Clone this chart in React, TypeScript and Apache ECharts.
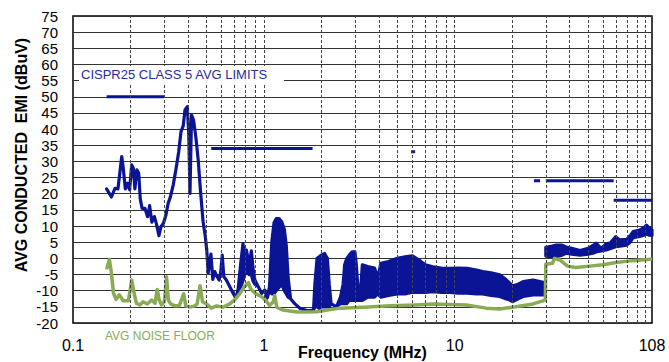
import React, { useEffect, useRef } from "react";
import * as echarts from "echarts";

// ---- data ----
// conducted EMI (average), MW/SW range: [MHz, lower envelope dBuV, upper envelope dBuV]
const emiLowBand: number[][] = [
  [0.15, 21.5, 21.5], [0.159, 19.0, 19.0], [0.166, 21.7, 21.7], [0.172, 21.5, 21.5],
  [0.18, 31.5, 31.5], [0.183, 28.4, 28.4], [0.188, 21.5, 21.5], [0.193, 23.2, 23.2],
  [0.198, 21.2, 21.2], [0.203, 28.9, 28.9], [0.207, 27.9, 27.9], [0.211, 21.5, 21.5],
  [0.216, 27.4, 27.4], [0.221, 26.3, 26.3], [0.225, 18.5, 18.5], [0.23, 15.5, 15.5],
  [0.238, 15.5, 15.5], [0.246, 12.9, 12.9], [0.252, 16.3, 16.3], [0.259, 11.2, 11.2],
  [0.267, 12.9, 12.9], [0.274, 10.5, 10.5], [0.282, 7.0, 7.0], [0.289, 9.8, 9.8],
  [0.298, 10.9, 10.9], [0.307, 13.5, 13.5], [0.315, 17.0, 17.0], [0.324, 19.1, 19.1],
  [0.335, 22.7, 22.7], [0.347, 27.9, 27.9], [0.358, 33.0, 33.0], [0.368, 39.2, 39.2],
  [0.378, 41.0, 41.0], [0.386, 45.9, 45.9], [0.397, 46.9, 46.9], [0.404, 38.7, 38.7],
  [0.41, 20.1, 20.1], [0.418, 44.3, 44.3], [0.428, 42.8, 42.8], [0.44, 37.6, 37.6],
  [0.453, 30.4, 30.4], [0.466, 20.6, 20.6], [0.48, 11.5, 11.5], [0.494, 6.5, 6.5],
  [0.502, 2.6, 2.6], [0.511, -4.5, -4.5], [0.528, 1.3, 1.3], [0.54, -6.5, -6.5],
  [0.553, -4.1, -4.1], [0.567, -5.5, -5.5], [0.583, -6.7, -6.7], [0.595, -4.0, -4.0],
  [0.605, 1.0, 1.0], [0.617, -5.7, -5.7], [0.636, -6.7, -6.7], [0.663, -8.8, -8.8],
  [0.69, -10.8, -10.8], [0.714, -12.3, -12.3], [0.733, -11, -9.5], [0.755, -9, -2],
  [0.777, -7, 4.5], [0.795, -5, 0], [0.81, -4, 2.6], [0.836, -5, -2],
  [0.86, -5, 2.3], [0.877, -7, -3], [0.897, -8, -6.7], [0.935, -8.8, -8.8],
  [0.973, -10.8, -10.8], [1.01, -9.8, -9.8], [1.04, -12.3, -12.3], [1.07, -10, -8.8],
  [1.1, -11, 5], [1.13, -11, 11], [1.16, -10, 12.3], [1.2, -9, 12.3],
  [1.24, -8, 11.3], [1.28, -10, 9], [1.31, -11, 4], [1.34, -12, -6],
  [1.38, -12.5, -12.5], [1.45, -14, -14], [1.55, -15.5, -15.5], [1.7, -16.2, -16.2],
  [1.82, -16, -16], [1.85, -15, -8], [1.9, -15, 0], [1.95, -15.5, 0.5],
  [2.0, -15, 1], [2.08, -15, 1.5], [2.15, -15, 0], [2.2, -15, -8],
  [2.25, -14, -14], [2.4, -15, -15], [2.52, -14, -12], [2.6, -14, -8],
  [2.65, -14, -2], [2.72, -14, 0], [2.8, -13, 1], [2.9, -13, 2],
  [3.0, -13, 2], [3.05, -13, -2], [3.1, -13, -8], [3.2, -13, -11],
  [3.28, -13, -2], [3.5, -12, -2.5], [3.8, -12, -3], [3.95, -11, -6],
  [4.1, -12, -1.5], [4.5, -11.5, -1], [5.0, -11, 0], [5.5, -11, 0.5],
  [6.0, -10.5, 0.8], [6.5, -10.5, -0.5], [7.0, -10.5, -2], [7.7, -10.3, -2.6],
  [8.5, -10.5, -3], [9.4, -10.5, -3.1], [10.5, -10.8, -3], [11.6, -10.8, -3.1],
  [13, -11, -3.6], [14, -11, -4.1], [15.5, -11.5, -4.5], [17.2, -11.8, -5.1],
  [18.5, -12.5, -6.5], [19.4, -12.9, -7.7], [20.1, -13.4, -8.5], [21.5, -12.5, -8],
  [22.8, -11.8, -7.2], [25.7, -11.3, -6.7], [29.5, -11.3, -7.5],
];

// conducted EMI (average), VHF/FM range: [MHz, lower envelope, upper envelope]
const emiVhfBand: number[][] = [
  [30, 0.7, 3.4], [32.5, 0.5, 3.8], [34, 0.5, 4.1], [36.5, 1.0, 4.1],
  [38.3, 1.6, 3.5], [41, 1.3, 3.1], [45.3, 1.0, 2.4], [50, 1.3, 3.1],
  [53, 1.6, 4.0], [55, 2.0, 4.7], [58.4, 2.3, 3.1], [62, 2.6, 4.5],
  [65, 3.0, 4.7], [69.6, 3.6, 6.7], [73.3, 3.8, 5.7], [79.5, 4.1, 5.9],
  [83, 5.0, 7.0], [86, 6.4, 8.3], [93, 6.8, 8.8], [97, 7.1, 9.3],
  [101, 7.5, 10.3], [104, 7.2, 9.5], [108, 7.1, 8.8],
];

// average noise floor: [MHz, dBuV]
const noiseFloor: number[][] = [
  [0.15, -3.4], [0.155, -0.3], [0.159, -4.6], [0.163, -10.8], [0.168, -12.7],
  [0.175, -11.3], [0.183, -13.1], [0.195, -13.1], [0.203, -6.7], [0.209, -10.8],
  [0.215, -13.9], [0.224, -14.4], [0.233, -13.4], [0.245, -14.1], [0.258, -12.9],
  [0.269, -13.9], [0.276, -9.6], [0.283, -12.9], [0.291, -14.4], [0.301, -13.4],
  [0.309, -5.7], [0.316, -12.9], [0.325, -14.1], [0.341, -14.7], [0.36, -14.7],
  [0.38, -11.0], [0.39, -14.7], [0.41, -15.1], [0.435, -14.7], [0.447, -14.1],
  [0.463, -8.5], [0.477, -13.4], [0.5, -14.1], [0.53, -15.4], [0.565, -14.7],
  [0.61, -15.1], [0.663, -14.1], [0.7, -12.9], [0.75, -10.8], [0.79, -8.8],
  [0.81, -8.2], [0.83, -7.5], [0.85, -9.3], [0.88, -10.3], [0.91, -11.0],
  [0.97, -11.8], [1.02, -12.9], [1.07, -14.6], [1.12, -13.5], [1.14, -11.5],
  [1.17, -15.2], [1.26, -16.0], [1.37, -16.3], [1.5, -16.6], [1.89, -16.5],
  [2.5, -15.4], [3.33, -15.1], [4.6, -14.7], [6.3, -14.4], [7.7, -14.1],
  [11.5, -14.4], [14.6, -15.4], [17.2, -15.7], [20.1, -15.1], [25.7, -14.1],
  [29.8, -12.9], [30, -1.8], [32.5, -1.5], [33.3, 0.0], [35.5, -0.5],
  [39, -2.4], [43, -2.8], [50.9, -2.4], [59.5, -2.0], [69.9, -1.3],
  [85.3, -0.7], [106, -0.3], [108, -0.3],
];

// CISPR25 class 5 average limits: [start MHz, stop MHz, dBuV]
const cisprLimits: number[][] = [
  [0.15, 0.3, 50], [0.53, 1.8, 34], [5.9, 6.2, 33],
  [26, 28, 24], [30, 68, 24], [68, 108, 18],
];

// dashed vertical grid lines (MHz)
const xGridLines: number[] = [
  0.2, 0.3, 0.4, 0.5, 0.6, 0.7, 0.8, 0.9, 1,
  2, 3, 4, 5, 6, 7, 8, 9, 10,
  20, 30, 40, 50, 60, 70, 80, 90, 100,
];

const xRange = [0.1, 108];
const yRange = [-20, 75];
const yStep = 5;

const BLUE = "#0b1494";
const GREEN = "#8aab55";
const FONT = 'Arial, "Liberation Sans", sans-serif';

export default function App() {
  const ref = useRef<HTMLDivElement>(null);

  useEffect(() => {
    document.body.style.margin = "0";
    if (!ref.current) return;
    const chart = echarts.init(ref.current, undefined, { renderer: "svg" });
    const bands = [emiLowBand, emiVhfBand];

    const limitSeries = cisprLimits.map((l, i) => ({
      type: "line",
      name: "limit" + i,
      data: [[l[0], l[2]], [l[1], l[2]]],
      symbol: "none",
      lineStyle: { color: BLUE, width: 3 },
      z: 2,
      silent: true,
    }));

    const option: any = {
      animation: false,
      backgroundColor: "#fff",
      grid: {
        left: 73,
        right: 17,
        top: 16,
        bottom: 39,
        show: true,
        borderColor: "#000",
        borderWidth: 1.5,
        backgroundColor: "transparent",
        containLabel: false,
        outerBoundsMode: "none",
      },
      xAxis: {
        type: "log",
        logBase: 10,
        min: xRange[0],
        max: xRange[1],
        name: "Frequency (MHz)",
        nameLocation: "middle",
        nameGap: 21,
        nameMoveOverlap: false,
        nameTextStyle: { fontFamily: FONT, fontWeight: "bold", fontSize: 16, color: "#000" },
        axisLine: { show: false },
        axisTick: { show: false },
        splitLine: { show: false },
        axisLabel: {
          fontFamily: FONT,
          fontSize: 16,
          color: "#000",
          margin: 14,
          showMinLabel: true,
          showMaxLabel: true,
          formatter: (v: number) => {
            if (Math.abs(v - 100) < 0.5) return "";
            return v < 1 ? v.toFixed(1) : String(Math.round(v));
          },
        },
      },
      yAxis: {
        type: "value",
        min: yRange[0],
        max: yRange[1],
        interval: yStep,
        axisLine: { show: false },
        axisTick: { show: false },
        splitLine: { show: true, lineStyle: { color: "#333", width: 1 } },
        axisLabel: { fontFamily: FONT, fontSize: 15, color: "#000", margin: 15 },
      },
      graphic: [
        {
          type: "text",
          left: 79,
          top: 66,
          z: 100,
          style: {
            text: "CISPR25 CLASS 5 AVG LIMITS",
            fill: "#1f2ca0",
            font: `13px ${FONT}`,
            backgroundColor: "#fff",
            padding: [2, 16, 2, 2],
          },
        },
        {
          type: "text",
          left: 105,
          top: 330,
          z: 100,
          style: { text: "AVG NOISE FLOOR", fill: GREEN, font: `12px ${FONT}` },
        },
        {
          type: "text",
          x: 21,
          y: 155,
          rotation: Math.PI / 2,
          z: 100,
          style: {
            text: "AVG CONDUCTED  EMI (dBuV)",
            fill: "#000",
            font: `bold 16px ${FONT}`,
            align: "center",
            verticalAlign: "middle",
          },
        },
      ],
      series: [
        {
          type: "line",
          name: "grid",
          data: [],
          z: 1,
          silent: true,
          markLine: {
            silent: true,
            symbol: ["none", "none"],
            label: { show: false },
            lineStyle: { color: "#444", width: 1, type: [3, 2] },
            emphasis: { disabled: true },
            data: xGridLines.map((v) => ({ xAxis: v })),
          },
        },
        ...limitSeries,
        {
          type: "custom",
          name: "AVG EMI",
          z: 3,
          silent: true,
          data: bands.map((b) => [b[0][0], b[0][1]]),
          encode: { x: 0, y: 1 },
          renderItem: (params: any, api: any) => {
            const seg = bands[params.dataIndex];
            const upper = seg.map((p) => api.coord([p[0], p[2]]));
            const lower = seg
              .slice()
              .reverse()
              .map((p) => api.coord([p[0], p[1]]));
            return {
              type: "polygon",
              shape: { points: upper.concat(lower) },
              style: {
                fill: BLUE,
                stroke: BLUE,
                lineWidth: 3.2,
                lineJoin: "round",
              },
            };
          },
        },
        {
          type: "line",
          name: "AVG NOISE FLOOR",
          data: noiseFloor,
          symbol: "none",
          z: 4,
          silent: true,
          lineStyle: { color: GREEN, width: 3.5, join: "round" },
        },
      ],
    };
    chart.setOption(option);
    return () => chart.dispose();
  }, []);

  return <div ref={ref} style={{ width: 669, height: 362 }} />;
}
